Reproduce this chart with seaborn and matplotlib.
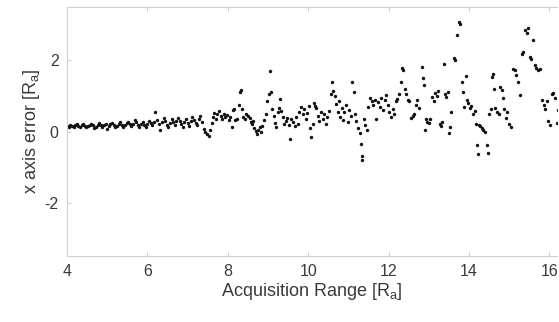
import numpy as np
import pandas as pd
import matplotlib
matplotlib.use("Agg")
import matplotlib.pyplot as plt
import seaborn as sns

# acquisition range [Ra] and x-axis error [Ra]
range_near = [4.00, 4.04, 4.08, 4.12, 4.16, 4.20, 4.24, 4.28, 4.32, 4.36,
              4.40, 4.44, 4.48, 4.52, 4.56, 4.60, 4.64, 4.68, 4.72, 4.76,
              4.80, 4.84, 4.88, 4.92, 4.96, 5.00, 5.04, 5.08, 5.12, 5.16,
              5.20, 5.24, 5.28, 5.32, 5.36, 5.40, 5.44, 5.48, 5.52, 5.56,
              5.60, 5.64, 5.68, 5.72, 5.76, 5.80, 5.84, 5.88, 5.92, 5.96,
              6.00, 6.04, 6.08, 6.12, 6.16, 6.20, 6.24, 6.28, 6.32, 6.36,
              6.40, 6.44, 6.48, 6.52, 6.56, 6.60, 6.64, 6.68, 6.72, 6.76,
              6.80, 6.84, 6.88, 6.92, 6.96, 7.00, 7.04, 7.08, 7.12, 7.16,
              7.20, 7.24, 7.28, 7.32, 7.36, 7.40, 7.44, 7.48, 7.52, 7.56,
              7.60, 7.63, 7.66, 7.70, 7.74, 7.78, 7.82, 7.86, 7.90, 7.94,
              7.98, 8.02, 8.05]
err_near = [0.16, 0.14, 0.18, 0.15, 0.12, 0.17, 0.20, 0.15, 0.13, 0.18,
            0.21, 0.16, 0.12, 0.15, 0.19, 0.22, 0.17, 0.11, 0.14, 0.18,
            0.23, 0.19, 0.13, 0.17, 0.21, 0.08, 0.15, 0.20, 0.24, 0.18,
            0.12, 0.16, 0.22, 0.26, 0.19, 0.14, 0.18, 0.23, 0.28, 0.20,
            0.15, 0.21, 0.33, 0.26, 0.18, 0.13, 0.22, 0.27, 0.19, 0.12,
            0.20, 0.30, 0.24, 0.17, 0.26, 0.55, 0.33, 0.22, 0.05, 0.28,
            0.38, 0.30, 0.19, 0.12, 0.25, 0.35, 0.27, 0.18, 0.31, 0.39,
            0.29, 0.21, 0.14, 0.26, 0.34, 0.24, 0.16, 0.30, 0.42, 0.33,
            0.25, 0.18, 0.36, 0.45, 0.28, 0.08, 0.00, -0.08, -0.12, 0.05,
            0.25, 0.42, 0.52, 0.35, 0.48, 0.58, 0.44, 0.36, 0.50, 0.40,
            0.46, 0.33, 0.42]

range_mid = [8.10, 8.12, 8.15, 8.18, 8.22, 8.27, 8.30, 8.32, 8.36, 8.38,
             8.42, 8.46, 8.50, 8.54, 8.57, 8.60, 8.63, 8.66, 8.70, 8.73,
             8.76, 8.80, 8.83, 8.86, 8.90, 8.94, 8.98, 9.02, 9.05, 9.08,
             9.11, 9.14, 9.17, 9.20, 9.24, 9.27, 9.30, 9.33, 9.37, 9.40,
             9.44, 9.48, 9.52, 9.55, 9.58, 9.62, 9.66, 9.70, 9.74, 9.78,
             9.82, 9.86, 9.90, 9.94, 9.98, 10.02, 10.05, 10.08, 10.11, 10.14,
             10.17, 10.20, 10.24, 10.28, 10.32, 10.36, 10.40, 10.44, 10.48, 10.52,
             10.56, 10.59, 10.62, 10.66, 10.70, 10.73, 10.76, 10.80, 10.83, 10.86,
             10.90, 10.94, 10.98, 11.02, 11.06, 11.10, 11.13, 11.16, 11.20, 11.24,
             11.28, 11.31, 11.33, 11.35, 11.38, 11.42, 11.46, 11.50, 11.54, 11.58,
             11.62, 11.66, 11.70, 11.74, 11.78, 11.82, 11.86, 11.90, 11.94]
err_mid = [0.14, 0.60, 0.64, 0.33, 0.35, 0.75, 1.12, 1.16, 0.62, 0.40,
           0.36, 0.50, 0.45, 0.38, 0.28, 0.20, 0.30, 0.10, 0.02, -0.08,
           0.05, 0.12, 0.00, 0.15, 0.33, 0.50, 0.85, 1.05, 1.70, 1.12,
           0.62, 0.45, 0.25, 0.12, 0.55, 0.65, 0.92, 0.58, 0.40, 0.22,
           0.30, 0.38, 0.18, -0.20, 0.35, 0.28, 0.15, 0.40, 0.22, 0.56,
           0.68, 0.48, 0.62, 0.36, 0.52, 0.72, 0.10, -0.15, 0.20, 0.80,
           0.72, 0.65, 0.45, 0.30, 0.55, 0.35, 0.50, 0.22, 0.40, 0.58,
           1.05, 1.38, 1.15, 1.00, 0.78, 0.55, 0.85, 0.42, 0.65, 0.32,
           0.55, 0.75, 0.28, 0.60, 0.45, 1.40, 1.10, 0.50, 0.30, 0.10,
           -0.05, -0.35, -0.70, -0.80, 0.35, 0.18, 0.05, 0.70, 0.95, 0.85,
           0.75, 0.90, 0.36, 0.82, 0.70, 0.95, 0.60, 0.88, 1.02]

range_far = [11.98, 12.02, 12.06, 12.10, 12.14, 12.18, 12.22, 12.26, 12.30, 12.34,
             12.37, 12.40, 12.44, 12.48, 12.52, 12.56, 12.60, 12.64, 12.68, 12.72,
             12.76, 12.82, 12.85, 12.88, 12.90, 12.93, 12.96, 13.00, 13.04, 13.08,
             13.12, 13.16, 13.20, 13.24, 13.28, 13.31, 13.34, 13.38, 13.41, 13.44,
             13.48, 13.51, 13.53, 13.56, 13.62, 13.65, 13.70, 13.75, 13.78, 13.82,
             13.85, 13.88, 13.92, 13.95, 13.98, 14.02, 14.06, 14.10, 14.14, 14.18,
             14.20, 14.22, 14.24, 14.28, 14.32, 14.36, 14.40, 14.44, 14.47, 14.50,
             14.54, 14.57, 14.60, 14.63, 14.66, 14.70, 14.74, 14.78, 14.82, 14.85,
             14.88, 14.92, 14.96, 15.00, 15.04, 15.10, 15.14, 15.18, 15.22, 15.26,
             15.32, 15.35, 15.40, 15.44, 15.48, 15.52, 15.55, 15.60, 15.64, 15.68,
             15.72, 15.76, 15.82, 15.86, 15.90, 15.94, 15.98, 16.02, 16.06, 16.10,
             16.14, 16.18, 16.22]
err_far = [0.75, 0.55, 0.40, 0.62, 0.50, 0.85, 0.92, 1.05, 1.40, 1.78,
           1.72, 1.20, 1.05, 0.90, 0.85, 0.38, 0.45, 0.48, 0.75, 0.90,
           0.65, 1.82, 1.50, 1.30, 0.05, 0.35, 0.28, 0.24, 0.36, 0.98,
           0.85, 1.08, 1.00, 1.15, 0.22, 0.15, 0.28, 1.90, 1.05, 0.98,
           1.10, -0.05, 0.14, 0.56, 2.08, 2.00, 2.72, 3.08, 3.02, 1.40,
           1.10, 0.70, 1.55, 0.90, 0.80, 0.65, 0.72, 0.50, 0.58, 0.22,
           -0.37, -0.64, 0.18, 0.15, 0.10, 0.05, -0.02, -0.38, -0.60, 0.48,
           0.62, 1.52, 1.62, 1.20, 0.65, 0.55, 0.48, 1.25, 1.18, 0.95,
           0.62, 0.38, 0.55, 0.20, 0.12, 1.75, 1.72, 1.58, 1.38, 1.02,
           2.18, 2.25, 2.85, 2.78, 2.92, 2.10, 2.05, 2.58, 1.88, 1.80,
           1.72, 1.76, 0.88, 0.75, 0.62, 0.85, 0.30, 0.18, 1.05, 1.08,
           0.95, 0.25, 0.60]

x_ticks = [4, 6, 8, 10, 12, 14, 16]
y_ticks = [-2, 0, 2]

df = pd.DataFrame({
    "range": range_near + range_mid + range_far,
    "error": err_near + err_mid + err_far,
})

sns.set_theme(style="white")
plt.rcParams["font.family"] = ["Liberation Sans", "DejaVu Sans"]
plt.rcParams["mathtext.fontset"] = "custom"
plt.rcParams["mathtext.rm"] = "Liberation Sans"
plt.rcParams["mathtext.it"] = "Liberation Sans"
plt.rcParams["axes.unicode_minus"] = False

fig = plt.figure(figsize=(5.59, 3.22), dpi=100)
ax = fig.add_axes([0.12, 0.205, 0.877, 0.773])

sns.scatterplot(data=df, x="range", y="error", ax=ax, color="#111111",
                s=6, linewidth=0, legend=False)

ax.set_xlim(4, 16.2)
ax.set_ylim(-3.5, 3.5)
ax.set_xticks(x_ticks)
ax.set_yticks(y_ticks)
ax.set_xlabel(r"Acquisition Range [R$_\mathrm{a}$]", fontsize=13,
              color="#3a3a3a", labelpad=1)
ax.set_ylabel(r"x axis error [R$_\mathrm{a}$]", fontsize=13,
              color="#3a3a3a", labelpad=2)

ax.tick_params(axis="both", direction="in", length=3, width=0.6,
               color="#c8c8c8", labelsize=11.5, labelcolor="#3a3a3a",
               top=True, bottom=True, left=True, right=False, pad=6)
for side in ["top", "bottom", "left"]:
    ax.spines[side].set_color("#d0d0d0")
    ax.spines[side].set_linewidth(0.8)
ax.spines["right"].set_visible(False)

fig.savefig("out.png", dpi=100)
